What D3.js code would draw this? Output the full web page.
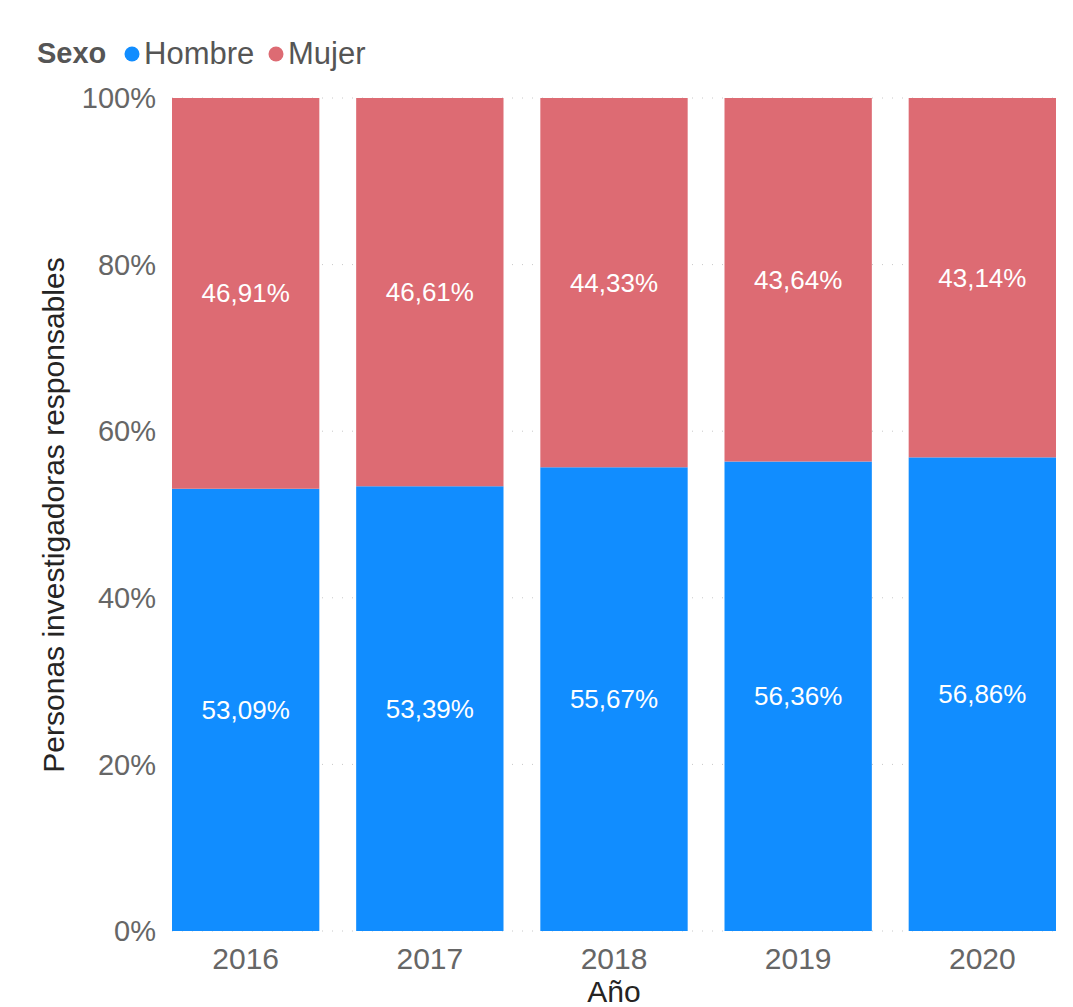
<!DOCTYPE html>
<html>
<head>
<meta charset="utf-8">
<script src="https://cdn.jsdelivr.net/npm/d3@7"></script>
<style>
  body { margin: 0; background: #fff; font-family: "Liberation Sans", Arial, sans-serif; }
</style>
</head>
<body>
<svg id="chart" width="1073" height="1007"></svg>
<script>
const years = ["2016", "2017", "2018", "2019", "2020"];
const hombre = [53.09, 53.39, 55.67, 56.36, 56.86];
const mujer = [46.91, 46.61, 44.33, 43.64, 43.14];
const series = ["Hombre", "Mujer"];
const colors = ["#118DFF", "#DD6B73"];
const yTicks = [0, 20, 40, 60, 80, 100];

const svg = d3.select("#chart");
const margin = { top: 98, right: 17, bottom: 76, left: 172 };
const width = 1073, height = 1007;

const x = d3.scaleBand()
    .domain(years)
    .range([margin.left, width - margin.right])
    .paddingInner(0.2)
    .paddingOuter(0);

const y = d3.scaleLinear()
    .domain([0, 100])
    .range([height - margin.bottom, margin.top]);

// gridlines
svg.append("g")
    .selectAll("line")
    .data(yTicks)
    .join("line")
    .attr("x1", margin.left)
    .attr("x2", width - margin.right)
    .attr("y1", d => y(d))
    .attr("y2", d => y(d))
    .attr("stroke", "#c8c8c8")
    .attr("stroke-width", 1)
    .attr("stroke-dasharray", "1,9");

// y tick labels
svg.append("g")
    .selectAll("text")
    .data(yTicks)
    .join("text")
    .attr("x", 156)
    .attr("y", d => y(d))
    .attr("dy", "0.35em")
    .attr("text-anchor", "end")
    .attr("font-size", 29)
    .attr("fill", "#666")
    .text(d => d + "%");

// stacked data
const rows = years.map((yr, i) => ({ year: yr, Hombre: hombre[i], Mujer: mujer[i] }));
const stacked = d3.stack().keys(series)(rows);

const fmt = v => v.toFixed(2).replace(".", ",") + "%";

const layers = svg.append("g")
    .selectAll("g")
    .data(stacked)
    .join("g")
    .attr("fill", (d, i) => colors[i]);

layers.selectAll("rect")
    .data(d => d)
    .join("rect")
    .attr("x", d => x(d.data.year))
    .attr("width", x.bandwidth())
    .attr("y", d => y(d[1]))
    .attr("height", d => y(d[0]) - y(d[1]));

layers.selectAll("text")
    .data(d => d.map(p => ({ p, key: d.key })))
    .join("text")
    .attr("x", d => x(d.p.data.year) + x.bandwidth() / 2)
    .attr("y", d => y((d.p[0] + d.p[1]) / 2))
    .attr("dy", "0.35em")
    .attr("text-anchor", "middle")
    .attr("font-size", 26)
    .attr("fill", "#fff")
    .text(d => fmt(d.p.data[d.key]));

// x tick labels
svg.append("g")
    .selectAll("text")
    .data(years)
    .join("text")
    .attr("x", d => x(d) + x.bandwidth() / 2)
    .attr("y", 958)
    .attr("dy", "0.35em")
    .attr("text-anchor", "middle")
    .attr("font-size", 30)
    .attr("fill", "#666")
    .text(d => d);

// axis titles
svg.append("text")
    .attr("x", (margin.left + width - margin.right) / 2)
    .attr("y", 991)
    .attr("dy", "0.35em")
    .attr("text-anchor", "middle")
    .attr("font-size", 30)
    .attr("fill", "#252423")
    .text("Año");

svg.append("text")
    .attr("transform", `translate(53, ${(252 + 778) / 2}) rotate(-90)`)
    .attr("dy", "0.35em")
    .attr("text-anchor", "middle")
    .attr("font-size", 30)
    .attr("fill", "#252423")
    .text("Personas investigadoras responsables");

// legend
const legend = svg.append("g").attr("transform", "translate(37, 53)");
legend.append("text")
    .attr("dy", "0.35em")
    .attr("font-size", 29)
    .attr("font-weight", "bold")
    .attr("fill", "#555")
    .text("Sexo");
const legX = [132, 276];
series.forEach((s, i) => {
    legend.append("circle")
        .attr("cx", legX[i] - 37)
        .attr("cy", 1)
        .attr("r", 7.5)
        .attr("fill", colors[i]);
    legend.append("text")
        .attr("x", legX[i] - 37 + 12)
        .attr("dy", "0.35em")
        .attr("font-size", 31)
        .attr("fill", "#555")
        .text(s);
});
</script>
</body>
</html>
